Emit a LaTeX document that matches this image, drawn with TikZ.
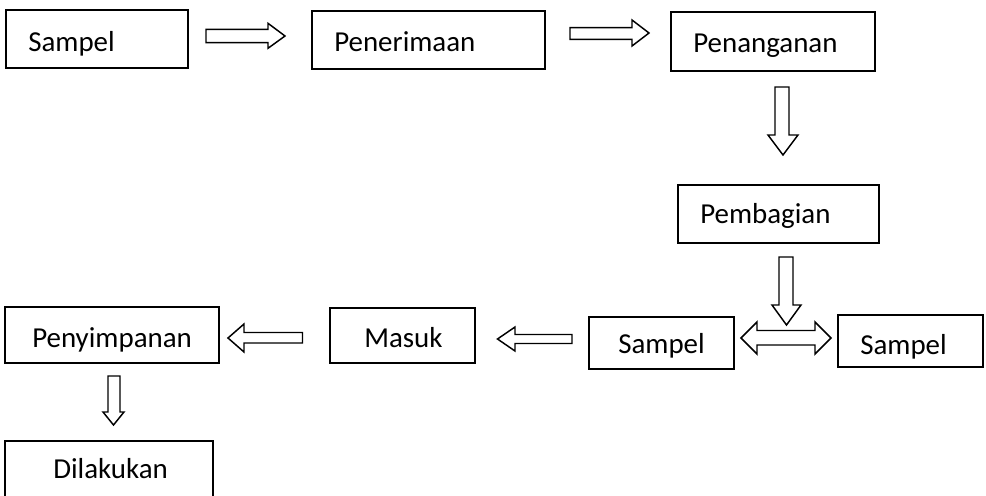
\documentclass[tikz,border=0pt]{standalone}
\usepackage{fontspec}
\setmainfont{Carlito}
\begin{document}
\begin{tikzpicture}[x=0.75pt,y=-0.75pt,
  box/.style={draw=black, line width=1.5pt, inner sep=0pt, fill=none},
  lbl/.style={anchor=base west, inner sep=0pt, font=\fontsize{21.7pt}{26pt}\selectfont, text=black},
  blk/.style={draw=black, line width=1.1pt, line join=miter, fill=white}]
\useasboundingbox (0,0) rectangle (986,496);
\clip (0,0) rectangle (986,496);
% boxes
\node[box, minimum width=136.5pt, minimum height=43.5pt] (b1) at (97,39) {};
\node[box, minimum width=174.75pt, minimum height=43.5pt] (b2) at (428.5,40) {};
\node[box, minimum width=153pt, minimum height=44.25pt] (b3) at (773,41.5) {};
\node[box, minimum width=150.75pt, minimum height=43.5pt] (b4) at (778.5,214) {};
\node[box, minimum width=108.75pt, minimum height=39pt] (b5) at (661.5,343) {};
\node[box, minimum width=108.75pt, minimum height=39pt] (b6) at (910.5,341) {};
\node[box, minimum width=108.75pt, minimum height=41.25pt] (b7) at (402.5,335.5) {};
\node[box, minimum width=160.5pt, minimum height=42pt] (b8) at (112,335) {};
\node[box, minimum width=156pt, minimum height=48pt] (b9) at (109,473) {};
% labels
\node[lbl] (t1) at (28,51) {Sampel};
\node[lbl] (t2) at (334,51) {Penerimaan};
\node[lbl] (t3) at (693,52) {Penanganan};
\node[lbl] (t4) at (700,223) {Pembagian};
\node[lbl] (t5) at (618,353) {Sampel};
\node[lbl] (t6) at (860,354) {Sampel};
\node[lbl] (t7) at (364,347) {Masuk};
\node[lbl] (t8) at (32,347) {Penyimpanan};
\node[lbl] (t9) at (53,478) {Dilakukan};
% block arrows
% Sampel -> Penerimaan
\draw[blk] (206,29.3) -- (268,29.3) -- (268,23.3) -- (285,36) -- (268,48.3) -- (268,42.7) -- (206,42.7) -- cycle;
% Penerimaan -> Penanganan
\draw[blk] (570,27.7) -- (632,27.7) -- (632,20) -- (649,33) -- (632,46) -- (632,39.3) -- (570,39.3) -- cycle;
% Penanganan -> Pembagian
\draw[blk] (775,87) -- (789,87) -- (789,135) -- (798,135) -- (783,155) -- (768,135) -- (775,135) -- cycle;
% Pembagian -> split
\draw[blk] (779,257) -- (793,257) -- (793,305) -- (801,305) -- (786.5,325) -- (772,305) -- (779,305) -- cycle;
% double arrow
\draw[blk] (741,338) -- (757,322) -- (757,330.5) -- (815,330.5) -- (815,322) -- (831,338) -- (815,354) -- (815,345) -- (757,345) -- (757,354) -- cycle;
% Sampel -> Masuk
\draw[blk] (497.5,339) -- (515,327) -- (515,334.5) -- (572,334.5) -- (572,343.5) -- (515,343.5) -- (515,351) -- cycle;
% Masuk -> Penyimpanan
\draw[blk] (228,338) -- (244,324) -- (244,332.5) -- (302.5,332.5) -- (302.5,343) -- (244,343) -- (244,352) -- cycle;
% Penyimpanan -> Dilakukan
\draw[blk] (108,376) -- (120,376) -- (120,412) -- (124,412) -- (113.5,425) -- (103,412) -- (108,412) -- cycle;
\end{tikzpicture}
\end{document}
